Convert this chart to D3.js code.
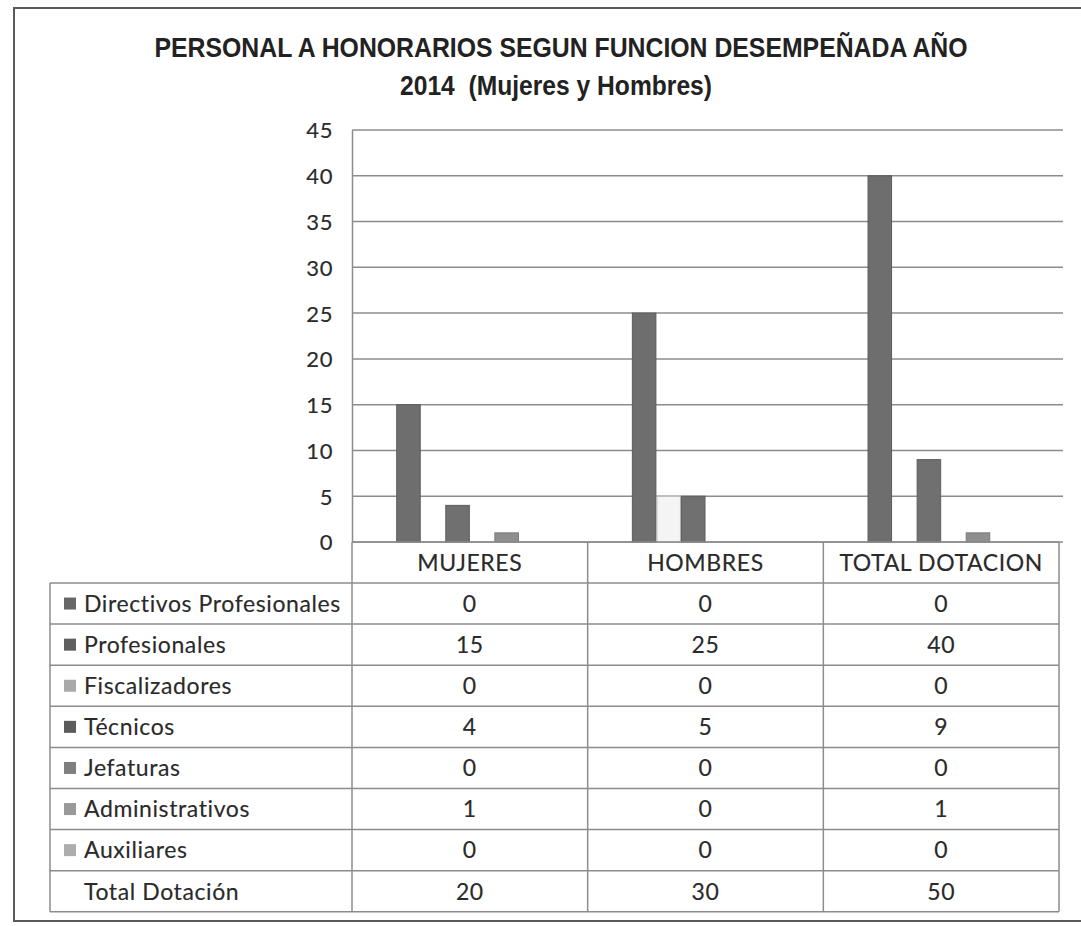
<!DOCTYPE html>
<html>
<head>
<meta charset="utf-8">
<script src="https://cdn.jsdelivr.net/npm/d3@7"></script>
<style>
  body { margin: 0; background: #fff; }
  svg { display: block; }
  .cell-text { font-family: Lato, "Open Sans", sans-serif; font-size: 23px; letter-spacing: 0.6px; fill: #2a2a2a; stroke: #2a2a2a; stroke-width: 0.15px; }
  .tick-text { font-family: Lato, "Open Sans", sans-serif; font-size: 22px; letter-spacing: 0.6px; fill: #2a2a2a; stroke: #2a2a2a; stroke-width: 0.15px; }
</style>
</head>
<body>
<svg id="chart" width="1081" height="926"></svg>
<script>
// ---- data ----
const categories = ["MUJERES", "HOMBRES", "TOTAL DOTACION"];
const seriesNames = ["Directivos Profesionales", "Profesionales", "Fiscalizadores", "Técnicos",
                     "Jefaturas", "Administrativos", "Auxiliares", "Total Dotación"];
const directivos = [0, 0, 0];
const profesionales = [15, 25, 40];
const fiscalizadores = [0, 0, 0];
const tecnicos = [4, 5, 9];
const jefaturas = [0, 0, 0];
const administrativos = [1, 0, 1];
const auxiliares = [0, 0, 0];
const totalDotacion = [20, 30, 50];
// the plotted Fiscalizadores bar for HOMBRES shows 5 (pale bar) although the table says 0
const fiscalizadoresPlotted = [0, 5, 0];
const yTicks = [0, 5, 10, 15, 20, 25, 30, 35, 40, 45];
const titleLines = ["PERSONAL A HONORARIOS SEGUN FUNCION DESEMPEÑADA AÑO", "2014  (Mujeres y Hombres)"];

const tableValues = [directivos, profesionales, fiscalizadores, tecnicos, jefaturas, administrativos, auxiliares, totalDotacion];
const barValues = [directivos, profesionales, fiscalizadoresPlotted, tecnicos, jefaturas, administrativos, auxiliares, totalDotacion];

// styles (scan looks greyscale)
const keyColors = ["#676767", "#5f5f5f", "#a9a9a9", "#5b5b5b", "#7f7f7f", "#999999", "#adadad", null];
const barFill = ["#676767", "#6e6e6e", "#f4f4f4", "#707070", "#7f7f7f", "#8f8f8f", "#adadad", "none"];
const barStroke = ["#555", "#5c5c5c", "#b5b5b5", "#5e5e5e", "#666", "#7a7a7a", "#999", "none"];

const cfg = {
  plotLeft: 352, plotRight: 1059, gridRight: 1063,
  plotTop: 130, plotBottom: 542,
  tableLeft: 50, headerBottom: 583, rowH: 41.1,
  lineColor: "#8c8c8c"
};

const svg = d3.select("#chart");

// outer frame
svg.append("rect")
  .attr("x", 14).attr("y", 8)
  .attr("width", 1100).attr("height", 913)
  .attr("fill", "#fff")
  .attr("stroke", "#5a5a5a")
  .attr("stroke-width", 2);

// title (narrow bold look: big font squeezed to the measured width)
svg.selectAll(".title")
  .data(titleLines)
  .join("text")
  .attr("class", "title")
  .attr("x", (d, i) => i === 0 ? 561 : 556)
  .attr("y", (d, i) => i === 0 ? 57 : 95)
  .attr("text-anchor", "middle")
  .attr("textLength", (d, i) => i === 0 ? 813 : 312)
  .attr("lengthAdjust", "spacingAndGlyphs")
  .style("white-space", "pre")
  .style("font-family", "'Liberation Sans Narrow', 'Arial Narrow', 'Liberation Sans', sans-serif")
  .style("font-weight", "bold")
  .style("font-size", "28px")
  .style("fill", "#222")
  .text(d => d);

// scales
const x0 = d3.scaleBand()
  .domain(categories)
  .range([cfg.plotLeft, cfg.plotRight])
  .padding(0);

const x1 = d3.scaleBand()
  .domain(seriesNames)
  .range([0, x0.bandwidth()])
  .paddingInner(0)
  .paddingOuter(0.8);

const y = d3.scaleLinear()
  .domain([0, 45])
  .range([cfg.plotBottom, cfg.plotTop]);

// gridlines
svg.append("g")
  .selectAll("line")
  .data(yTicks)
  .join("line")
  .attr("x1", cfg.plotLeft).attr("x2", cfg.gridRight)
  .attr("y1", d => y(d)).attr("y2", d => y(d))
  .attr("stroke", cfg.lineColor)
  .attr("stroke-width", 1.5);

// y axis
const yAxis = svg.append("g")
  .attr("transform", `translate(${cfg.plotLeft},0)`)
  .call(d3.axisLeft(y).tickValues(yTicks).tickSize(0).tickPadding(19));
yAxis.select(".domain").attr("stroke", cfg.lineColor).attr("stroke-width", 1.5);
yAxis.selectAll("text").attr("class", "tick-text").attr("dy", "0.36em");

// bars
const groups = svg.append("g")
  .selectAll("g")
  .data(categories)
  .join("g")
  .attr("transform", d => `translate(${x0(d)},0)`);

groups.selectAll("rect")
  .data((c, ci) => seriesNames.map((s, si) => ({ s, si, v: barValues[si][ci] })))
  .join("rect")
  .filter(d => d.v > 0 && barFill[d.si] !== "none")
  .attr("x", d => x1(d.s) + 0.5)
  .attr("width", x1.bandwidth() - 1)
  .attr("y", d => y(d.v))
  .attr("height", d => y(0) - y(d.v))
  .attr("fill", d => barFill[d.si])
  .attr("stroke", d => barStroke[d.si])
  .attr("stroke-width", 1);

// data table
const table = svg.append("g");
const rowTop = i => cfg.headerBottom + i * cfg.rowH;
const tableBottom = rowTop(seriesNames.length);

// header cells (categories)
categories.forEach(c => {
  table.append("text")
    .attr("class", "cell-text")
    .attr("x", x0(c) + x0.bandwidth() / 2)
    .attr("y", (cfg.plotBottom + cfg.headerBottom) / 2)
    .attr("dy", "0.36em")
    .attr("text-anchor", "middle")
    .text(c);
});

// horizontal rules
const hLines = [{ y: cfg.plotBottom, x1: cfg.plotLeft }]
  .concat(d3.range(seriesNames.length + 1).map(i => ({ y: rowTop(i), x1: cfg.tableLeft })));
table.selectAll(".hline")
  .data(hLines)
  .join("line")
  .attr("class", "hline")
  .attr("x1", d => d.x1).attr("x2", cfg.plotRight)
  .attr("y1", d => d.y).attr("y2", d => d.y)
  .attr("stroke", cfg.lineColor).attr("stroke-width", 1.5);

// vertical rules
const vLines = [{ x: cfg.tableLeft, y1: cfg.headerBottom }]
  .concat(categories.map(c => ({ x: x0(c), y1: cfg.plotBottom })))
  .concat([{ x: cfg.plotRight, y1: cfg.plotBottom }]);
table.selectAll(".vline")
  .data(vLines)
  .join("line")
  .attr("class", "vline")
  .attr("x1", d => d.x).attr("x2", d => d.x)
  .attr("y1", d => d.y1).attr("y2", tableBottom)
  .attr("stroke", cfg.lineColor).attr("stroke-width", 1.5);

// rows
seriesNames.forEach((s, si) => {
  const cy = rowTop(si) + cfg.rowH / 2;
  if (keyColors[si]) {
    table.append("rect")
      .attr("x", 64).attr("y", cy - 6)
      .attr("width", 12).attr("height", 12)
      .attr("fill", keyColors[si]);
  }
  table.append("text")
    .attr("class", "cell-text")
    .attr("x", 84)
    .attr("y", cy)
    .attr("dy", "0.36em")
    .text(s);
  categories.forEach((c, ci) => {
    table.append("text")
      .attr("class", "cell-text")
      .attr("x", x0(c) + x0.bandwidth() / 2)
      .attr("y", cy)
      .attr("dy", "0.36em")
      .attr("text-anchor", "middle")
      .text(tableValues[si][ci]);
  });
});
</script>
</body>
</html>
